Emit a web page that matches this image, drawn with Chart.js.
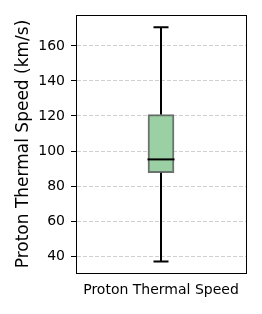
<!DOCTYPE html>
<html><head><meta charset="utf-8">
<script src="https://cdn.jsdelivr.net/npm/chart.js@4/dist/chart.umd.min.js"></script>
<style>html,body{margin:0;padding:0;background:#fff}#wrap{width:262px;height:314px}</style>
</head><body><div id="wrap"><canvas id="c" width="262" height="314"></canvas></div>
<script>
const categories = ['Proton Thermal Speed'];
const whiskerLow = [36.9];
const q1 = [87.6];
const median = [95.2];
const q3 = [120.8];
const whiskerHigh = [170.7];
const yTicks = [40, 60, 80, 100, 120, 140, 160];

const boxPlugin = {
  id: 'boxExtras',
  afterDatasetsDraw(chart) {
    const ctx = chart.ctx, x = chart.scales.x, y = chart.scales.y;
    ctx.save();
    categories.forEach((c, i) => {
      const cx = x.getPixelForValue(i);
      const half = 13.5, capHalf = 7.5;
      ctx.strokeStyle = '#000'; ctx.lineWidth = 2;
      ctx.beginPath();
      ctx.moveTo(cx, y.getPixelForValue(q3[i])); ctx.lineTo(cx, y.getPixelForValue(whiskerHigh[i]));
      ctx.moveTo(cx, y.getPixelForValue(q1[i])); ctx.lineTo(cx, y.getPixelForValue(whiskerLow[i]));
      ctx.moveTo(cx - capHalf, y.getPixelForValue(whiskerHigh[i])); ctx.lineTo(cx + capHalf, y.getPixelForValue(whiskerHigh[i]));
      ctx.moveTo(cx - capHalf, y.getPixelForValue(whiskerLow[i])); ctx.lineTo(cx + capHalf, y.getPixelForValue(whiskerLow[i]));
      ctx.stroke();
      ctx.beginPath();
      ctx.moveTo(cx - half, y.getPixelForValue(median[i])); ctx.lineTo(cx + half, y.getPixelForValue(median[i]));
      ctx.stroke();
    });
    const a = chart.chartArea;
    ctx.strokeStyle = '#000'; ctx.lineWidth = 1;
    ctx.strokeRect(Math.round(a.left) + 0.5, Math.round(a.top) + 0.5, Math.round(a.right - a.left), Math.round(a.bottom - a.top));
    ctx.restore();
  }
};

new Chart(document.getElementById('c'), {
  type: 'bar',
  data: {
    labels: categories,
    datasets: [{
      data: q1.map((v, i) => [v, q3[i]]),
      backgroundColor: '#9bcfa4',
      borderColor: 'rgba(70,80,75,0.8)',
      borderWidth: 2,
      borderSkipped: false,
      barThickness: 26
    }]
  },
  options: {
    responsive: false,
    animation: false,
    devicePixelRatio: 1,
    layout: { padding: { top: 15, right: 16, left: 0, bottom: 0 } },
    plugins: { legend: { display: false }, tooltip: { enabled: false } },
    scales: {
      x: {
        grid: { display: false, drawTicks: true, tickLength: 5, tickColor: '#000' },
        border: { color: '#000' },
        ticks: { color: '#000', font: { family: 'DejaVu Sans', size: 14 }, padding: 4 },
        afterFit(s) { s.height = 41; }
      },
      y: {
        min: 30.3, max: 177.7,
        afterBuildTicks(s) { s.ticks = yTicks.map(v => ({ value: v })); },
        grid: { color: '#cfcfcf', tickColor: '#000', tickLength: 5, drawTicks: true, tickBorderDash: [] },
        border: { color: '#000', dash: [4, 2] },
        ticks: { color: '#000', font: { family: 'DejaVu Sans', size: 14 }, padding: 6 },
        title: { display: true, text: 'Proton Thermal Speed (km/s)', color: '#000', font: { family: 'DejaVu Sans', size: 17 }, padding: { top: 13, bottom: 0 } },
        afterFit(s) { s.width = 76; }
      }
    }
  },
  plugins: [boxPlugin]
});
</script></body></html>
